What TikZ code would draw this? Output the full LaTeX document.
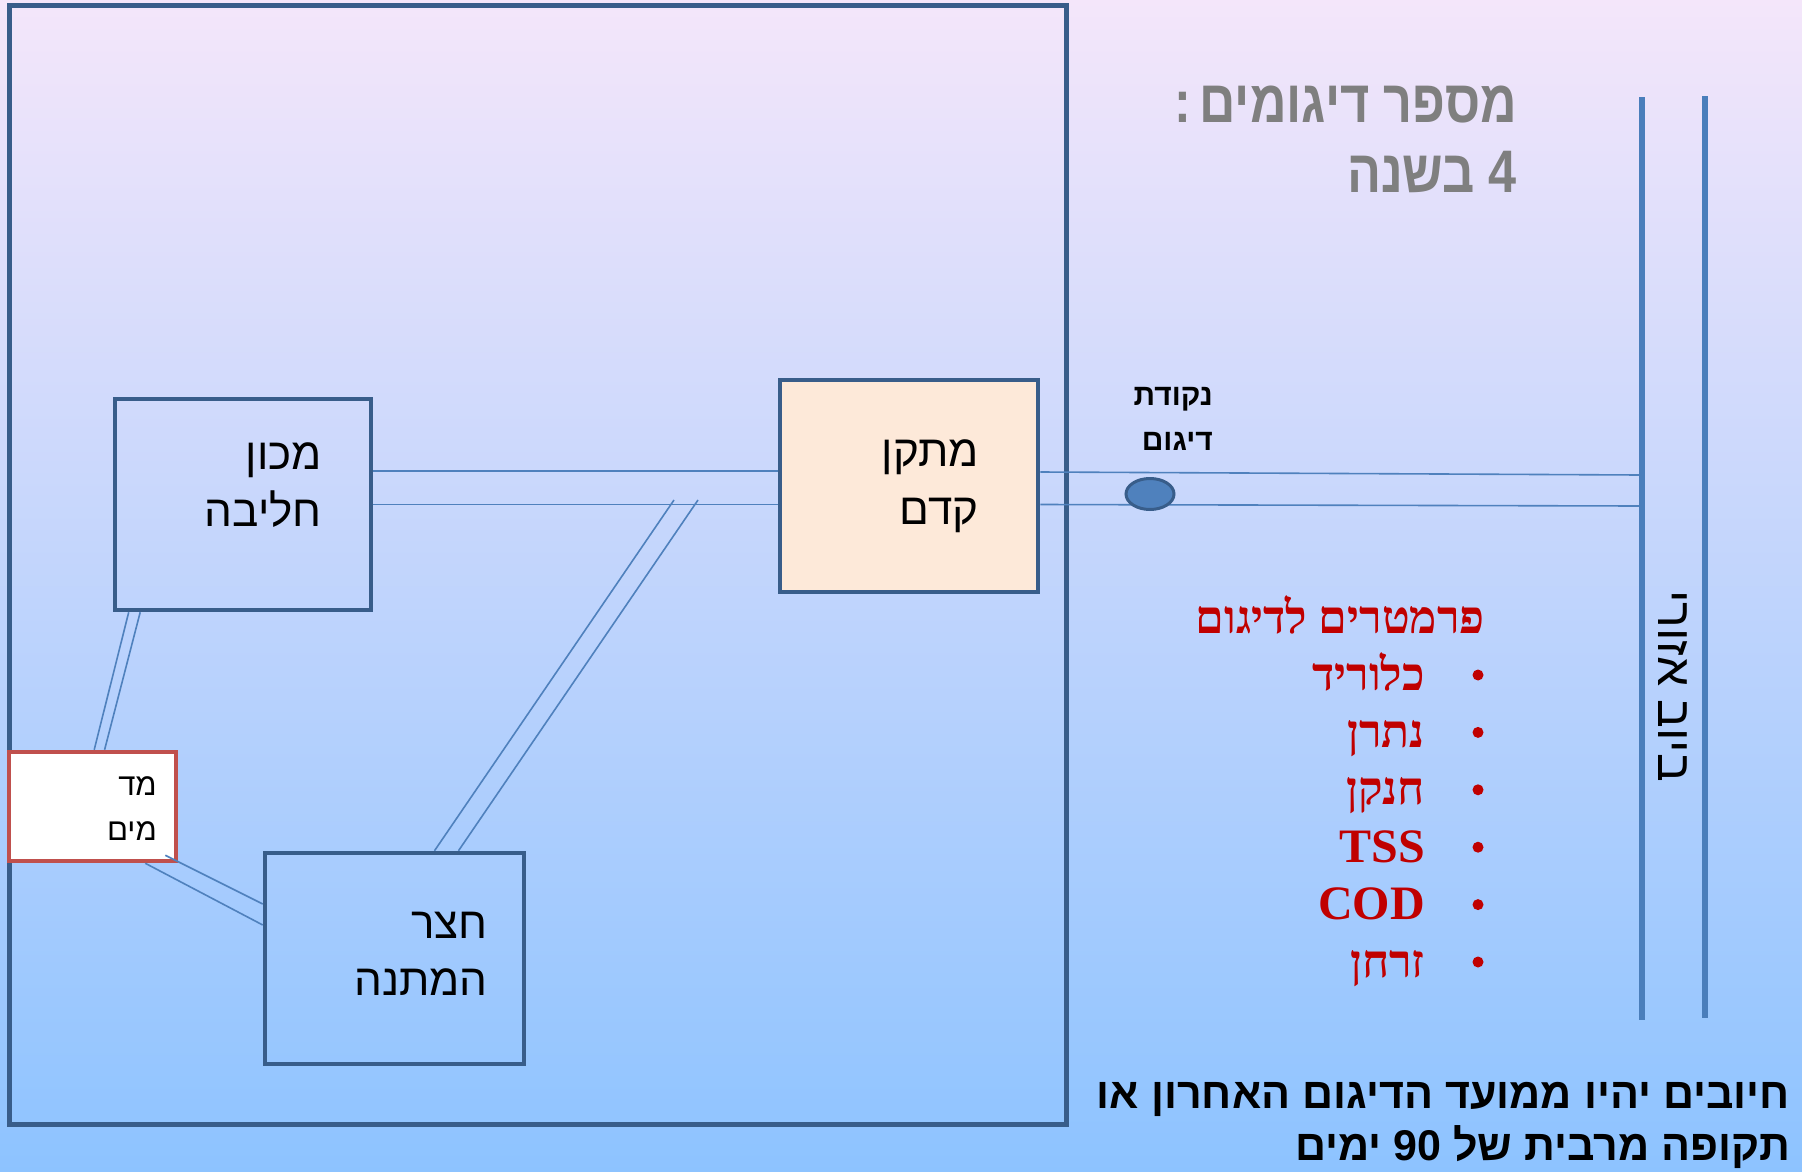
\documentclass[tikz,border=0pt]{standalone}
\usepackage{fontspec}
\usetikzlibrary{shapes.geometric,calc}
\TeXXeTstate=1
\setmainfont{Liberation Sans}
\newfontfamily\heb[Script=Hebrew]{Liberation Sans}
\newfontfamily\hebs[Script=Hebrew]{Liberation Serif}
\definecolor{boxc}{HTML}{385D8A}
\definecolor{pipec}{HTML}{4F81BD}
\definecolor{sewerc}{HTML}{4A7EBB}
\definecolor{redc}{HTML}{C00000}
\definecolor{grayc}{HTML}{7F7F7F}
\definecolor{peach}{HTML}{FDE9D9}
\definecolor{meterc}{HTML}{C0504D}
\definecolor{bgtop}{HTML}{F4E6FA}
\definecolor{bgbot}{HTML}{8DC3FF}
\newcommand{\hebline}[1]{\beginR #1\endR}
\newcommand{\narrowtxt}[1]{\scalebox{0.84}[1]{#1}}
\tikzset{
  box/.style={draw=boxc, line width=4.5pt, rectangle, inner sep=0},
  pipe/.style={draw=pipec, line width=1.6pt},
  sewer/.style={draw=sewerc, line width=5.5pt},
  lbl/.style={anchor=base east, inner sep=0, font=\heb\fontsize{44}{44}\selectfont},
  smalllbl/.style={lbl, font=\heb\fontsize{31}{31}\selectfont},
  samplbl/.style={lbl, font=\heb\bfseries\fontsize{30}{30}\selectfont},
  titlelbl/.style={lbl, text=grayc, font=\heb\bfseries\fontsize{60}{60}\selectfont},
  redlbl/.style={lbl, text=redc, font=\hebs\bfseries\fontsize{46}{46}\selectfont},
  redlatin/.style={redlbl, font=\hebs\bfseries\fontsize{48}{48}\selectfont},
  bottomlbl/.style={lbl, font=\heb\bfseries\fontsize{43}{43}\selectfont},
  bulletdot/.style={circle, fill=redc, minimum size=11, inner sep=0},
}
\begin{document}
\begin{tikzpicture}[x=1pt,y=-1pt]
\useasboundingbox (0,0) rectangle (1802,1172);
\shade[top color=bgtop, bottom color=bgbot] (0,0) rectangle (1802,1172);

% boxes
\node[box, line width=5pt, minimum width=1057, minimum height=1118] (frame) at (538.25,565) {};
\node[box, minimum width=256, minimum height=211] (milk) at (243,504.5) {};
\node[box, fill=peach, minimum width=258, minimum height=212] (pre) at (909,486) {};
\node[box, draw=meterc, fill=white, minimum width=167, minimum height=109] (meter) at (92.5,806.5) {};
\node[box, minimum width=259, minimum height=211] (yard) at (394.5,958.5) {};

% free ends
\coordinate (s1t) at (1642,97);
\coordinate (s1b) at (1642,1020);
\coordinate (s2t) at (1705,96);
\coordinate (s2b) at (1705,1018);
\coordinate (o1) at (1640,475);
\coordinate (o2) at (1640,506);
\coordinate (d1) at (674,500);
\coordinate (d2) at (698,500);

% pipes
\draw[pipe] ([yshift=33.5pt]milk.east) -- ([yshift=15pt]pre.west);
\draw[pipe] (milk.east) -- ([yshift=-18.5pt]pre.west);
\draw[pipe] ([yshift=14pt]pre.east) -- (o1);
\draw[pipe] ([yshift=-18.5pt]pre.east) -- (o2);
\draw[pipe] (d1) -- ([xshift=40pt]yard.north);
\draw[pipe] (d2) -- ([xshift=64pt]yard.north);
\draw[pipe] ([xshift=-114.3pt]milk.south) -- ([xshift=1.7pt]meter.north);
\draw[pipe] ([xshift=-102.8pt]milk.south) -- ([xshift=12.1pt]meter.north);
\draw[pipe] ([xshift=-13pt,yshift=8pt]meter.south east) -- ([yshift=54.5pt]yard.west);
\draw[pipe] ([xshift=-33pt]meter.south east) -- ([yshift=33.5pt]yard.west);

% sewer
\draw[sewer] (s1t) -- (s1b);
\draw[sewer] (s2t) -- (s2b);

% sampling point
\node[ellipse, fill=pipec, draw=boxc, line width=3pt, minimum width=48, minimum height=31, inner sep=0] (samp) at (1150,494) {};

% labels
\node[lbl] (milkt1) at (322,469) {\hebline{מכון}};
\node[lbl] (milkt2) at (322,526) {\hebline{חליבה}};
\node[lbl] (pret1) at (979,466) {\hebline{מתקן}};
\node[lbl] (pret2) at (979,524) {\hebline{קדם}};
\node[lbl] (yardt1) at (488,938) {\hebline{חצר}};
\node[lbl] (yardt2) at (488,995) {\hebline{המתנה}};
\node[smalllbl] (metert1) at (157,795) {\hebline{מד}};
\node[smalllbl] (metert2) at (157,840) {\hebline{מים}};
\node[samplbl] (sampt1) at (1213,405) {\hebline{נקודת}};
\node[samplbl] (sampt2) at (1213,450) {\hebline{דיגום}};

\node[titlelbl] (title1) at (1517,122) {\narrowtxt{\hebline{מספר דיגומים\,:}}};
\node[titlelbl] (title2) at (1517,192) {\narrowtxt{\hebline{4 בשנה}}};

\node[redlbl] (parhead) at (1485,633) {\hebline{פרמטרים לדיגום}};
\node[redlbl] (par1) at (1425,690) {\hebline{כלוריד}};
\node[redlbl] (par2) at (1425,747.4) {\hebline{נתרן}};
\node[redlbl] (par3) at (1425,804.8) {\hebline{חנקן}};
\node[redlatin] (par4) at (1425,862.2) {TSS};
\node[redlatin] (par5) at (1425,919.6) {COD};
\node[redlbl] (par6) at (1425,977) {\hebline{זרחן}};
\node[bulletdot] (b1) at (1478,675) {};
\node[bulletdot] (b2) at (1478,732.4) {};
\node[bulletdot] (b3) at (1478,789.8) {};
\node[bulletdot] (b4) at (1478,847.2) {};
\node[bulletdot] (b5) at (1478,904.6) {};
\node[bulletdot] (b6) at (1478,962) {};

\node[bottomlbl] (note1) at (1790,1108) {\hebline{חיובים יהיו ממועד הדיגום האחרון או}};
\node[bottomlbl] (note2) at (1790,1160) {\hebline{תקופה מרבית של \beginL 90\endL{} ימים}};

\node[rotate=-90, anchor=base, inner sep=0, font=\heb\fontsize{48}{48}\selectfont] (sewert) at (1658,686) {\hebline{ביוב אזורי}};
\end{tikzpicture}
\end{document}
